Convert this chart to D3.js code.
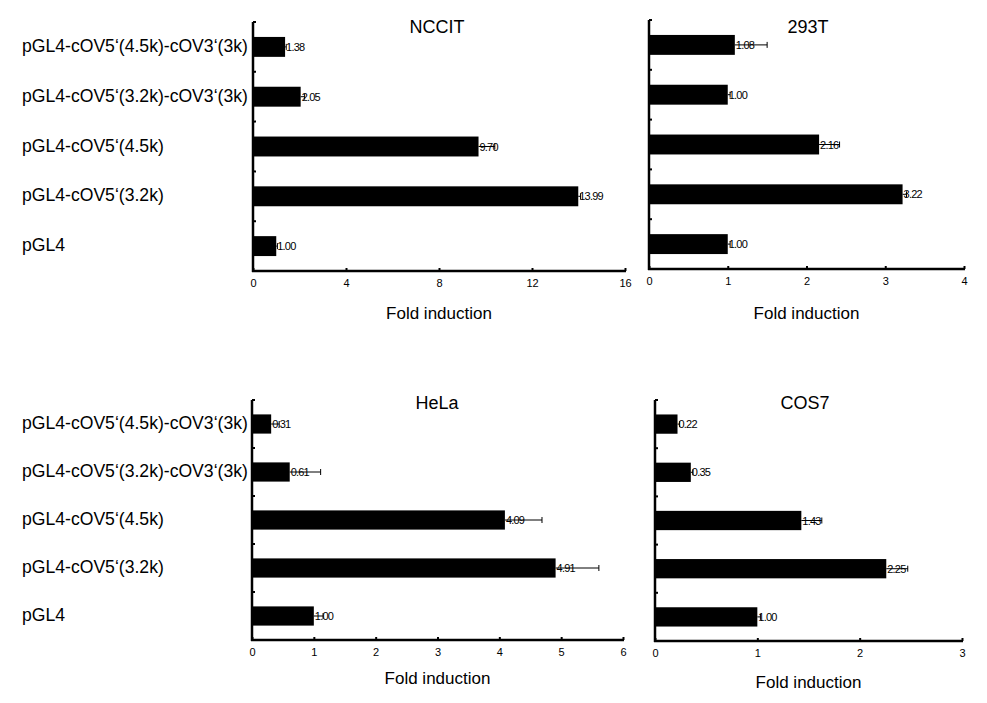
<!DOCTYPE html>
<html><head><meta charset="utf-8">
<script src="https://cdn.jsdelivr.net/npm/d3@7"></script>
<style>body{margin:0;background:#fff}</style>
</head><body>
<svg id="c" width="987" height="703"></svg>
<script>
const categories = ["pGL4-cOV5‘(4.5k)-cOV3‘(3k)", "pGL4-cOV5‘(3.2k)-cOV3‘(3k)", "pGL4-cOV5‘(4.5k)", "pGL4-cOV5‘(3.2k)", "pGL4"];

const ncictValues = [1.38, 2.05, 9.70, 13.99, 1.00];
const ncictErrors = [0.05, 0.17, 0.7, 0.1, 0.05];
const ncictLabels = ["1.38", "2.05", "9.70", "13.99", "1.00"];
const ncictTicks = [0, 4, 8, 12, 16];

const t293Values = [1.09, 1.00, 2.16, 3.22, 1.00];
const t293Errors = [0.41, 0.03, 0.26, 0.05, 0.03];
const t293Labels = ["1.08", "1.00", "2.16", "3.22", "1.00"];
const t293Ticks = [0, 1, 2, 3, 4];

const helaValues = [0.31, 0.61, 4.09, 4.91, 1.00];
const helaErrors = [0.13, 0.5, 0.6, 0.7, 0.15];
const helaLabels = ["0.31", "0.61", "4.09", "4.91", "1.00"];
const helaTicks = [0, 1, 2, 3, 4, 5, 6];

const cos7Values = [0.22, 0.35, 1.43, 2.26, 1.00];
const cos7Errors = [0.02, 0.02, 0.2, 0.21, 0.03];
const cos7Labels = ["0.22", "0.35", "1.43", "2.25", "1.00"];
const cos7Ticks = [0, 1, 2, 3];

const svg = d3.select("#c");
const sans = "'Liberation Sans', Arial, sans-serif";

function panel(o) {
  const x = d3.scaleLinear().domain([0, o.ticks[o.ticks.length - 1]]).range([o.x0, o.x1]);
  const y = d3.scaleBand().domain(categories).range([o.yTop, o.yBot]).paddingInner(0.6).paddingOuter(0.3);
  const g = svg.append("g");
  g.selectAll("rect.bar").data(o.values).join("rect")
    .attr("x", x(0)).attr("y", (d, i) => y(categories[i]))
    .attr("width", d => x(d) - x(0)).attr("height", y.bandwidth()).attr("fill", "#000");
  const eb = g.selectAll("g.eb").data(o.values).join("g");
  const cy = i => y(categories[i]) + y.bandwidth() / 2;
  eb.append("line").attr("x1", d => x(d)).attr("x2", (d, i) => x(d + o.errors[i]))
    .attr("y1", (d, i) => cy(i)).attr("y2", (d, i) => cy(i))
    .attr("stroke", "#000").attr("stroke-width", 1);
  eb.append("line").attr("x1", (d, i) => x(d + o.errors[i])).attr("x2", (d, i) => x(d + o.errors[i]))
    .attr("y1", (d, i) => cy(i) - 3).attr("y2", (d, i) => cy(i) + 3)
    .attr("stroke", "#000").attr("stroke-width", 1);
  g.selectAll("text.val").data(o.values).join("text")
    .attr("x", d => x(d) + 1).attr("y", (d, i) => cy(i) + 4)
    .attr("font-family", sans).attr("font-size", 11).attr("letter-spacing", -0.8)
    .attr("fill", "#000")
    .text((d, i) => o.labels[i]);
  const xa = d3.axisBottom(x).tickValues(o.ticks).tickSize(-3).tickPadding(8).tickFormat(d3.format("d"));
  const xg = g.append("g").attr("transform", `translate(0,${o.yBot})`).call(xa);
  xg.select(".domain").attr("stroke-width", 2.5).attr("d", `M${o.x0 - 1},0H${o.x1 + 1}`);
  xg.selectAll(".tick line").attr("stroke-width", 2);
  xg.selectAll(".tick text").attr("font-family", sans).attr("font-size", 11).attr("dy", "0.71em");
  const bounds = [o.yTop].concat(categories.slice(1).map(c => y(c) - y.step() * 0.3));
  g.append("line").attr("x1", o.x0).attr("x2", o.x0).attr("y1", o.yTop).attr("y2", o.yBot + 1)
    .attr("stroke", "#000").attr("stroke-width", 2.5);
  g.selectAll("line.yt").data(bounds).join("line")
    .attr("x1", o.x0).attr("x2", o.x0 + 3).attr("y1", d => d).attr("y2", d => d)
    .attr("stroke", "#000").attr("stroke-width", 2);
  if (o.showCats) {
    g.selectAll("text.cat").data(categories).join("text")
      .attr("x", 22).attr("y", d => y(d) + y.bandwidth() / 2 + 5)
      .attr("font-family", sans).attr("font-size", 17.6).attr("fill", "#000")
      .text(d => d);
  }
  g.append("text").attr("x", o.titleX).attr("y", o.titleY).attr("text-anchor", "middle")
    .attr("font-family", sans).attr("font-size", 18).text(o.title);
  g.append("text").attr("x", (o.x0 + o.x1) / 2).attr("y", o.xlabY).attr("text-anchor", "middle")
    .attr("font-family", sans).attr("font-size", 17).text("Fold induction");
}

panel({x0: 253, x1: 625, yTop: 22, yBot: 271, ticks: ncictTicks, values: ncictValues, errors: ncictErrors, labels: ncictLabels,
  title: "NCCIT", titleX: 437, titleY: 33, xlabY: 319, showCats: true});
panel({x0: 649, x1: 964, yTop: 20, yBot: 269, ticks: t293Ticks, values: t293Values, errors: t293Errors, labels: t293Labels,
  title: "293T", titleX: 808, titleY: 33, xlabY: 319, showCats: false});
panel({x0: 252, x1: 623, yTop: 400, yBot: 640, ticks: helaTicks, values: helaValues, errors: helaErrors, labels: helaLabels,
  title: "HeLa", titleX: 437, titleY: 409, xlabY: 684, showCats: true});
panel({x0: 655, x1: 962, yTop: 400, yBot: 641, ticks: cos7Ticks, values: cos7Values, errors: cos7Errors, labels: cos7Labels,
  title: "COS7", titleX: 805, titleY: 409, xlabY: 688, showCats: false});
</script>
</body></html>
